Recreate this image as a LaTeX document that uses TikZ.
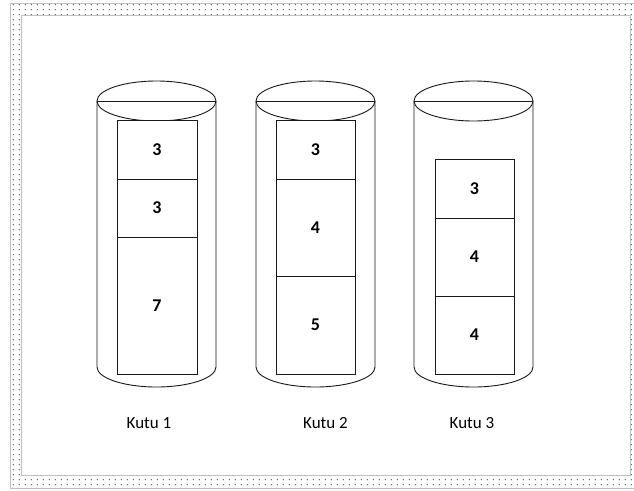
\documentclass[tikz,border=0pt]{standalone}
\usepackage{fontspec}
\setmainfont{Carlito}
\usetikzlibrary{patterns}
\pgfdeclarepatternformonly{sparsedots}{\pgfpointorigin}{\pgfpoint{6pt}{5pt}}{\pgfpoint{6pt}{5pt}}{%
  \pgfpathcircle{\pgfpoint{1.5pt}{1.5pt}}{0.7pt}\pgfusepath{fill}}
\tikzset{
  ln/.style={draw=black!90, line width=0.9pt},
  seg/.style={ln, fill=white, minimum width=#1, inner sep=0pt, font=\bfseries\fontsize{18}{18}\selectfont},
  seg/.default=80pt,
  lbl/.style={font=\fontsize{17}{17}\selectfont, inner sep=0pt},
  frameline/.style={draw=black!25, line width=0.6pt}
}
\begin{document}
\begin{tikzpicture}[x=1pt,y=-1pt]
\useasboundingbox (0,0) rectangle (634,490);
\fill[white] (0,0) rectangle (634,490);
% dotted frame band
\fill[pattern=sparsedots, pattern color=black!75, even odd rule]
  (10,3) rectangle (636,488) (21,15) rectangle (630,475);
\draw[frameline] (10,3) rectangle (636,488);
\draw[frameline] (21,15) rectangle (630,475);

% cylinders
\foreach \cx/\n in {156.5/1, 315.5/2, 473.5/3}{
  \draw[ln, fill=white] ({\cx-59.5},101) -- ({\cx-59.5},367)
     arc[start angle=180, end angle=360, x radius=59.5, y radius=-20]
     -- ({\cx+59.5},101);
  \draw[ln, fill=white] (\cx,101) ellipse[x radius=59.5, y radius=20];
  \draw[ln] ({\cx-59.5},101) -- ({\cx+59.5},101);
}

% segments of Kutu 1
\node[seg, minimum height=59pt] (a1) at (157,149.5) {3};
\node[seg, minimum height=58pt] (a2) at (157,208) {3};
\node[seg, minimum height=137pt] (a3) at (157,305.5) {7};
% segments of Kutu 2
\node[seg=79pt, minimum height=59pt] (b1) at (315.5,149.5) {3};
\node[seg=79pt, minimum height=97pt] (b2) at (315.5,227.5) {4};
\node[seg=79pt, minimum height=98pt] (b3) at (315.5,325) {5};
% segments of Kutu 3
\node[seg=79pt, minimum height=59pt] (c1) at (474.5,188.5) {3};
\node[seg=79pt, minimum height=78pt] (c2) at (474.5,257) {4};
\node[seg=79pt, minimum height=78pt] (c3) at (474.5,335) {4};

% labels
\node[lbl] (k1) at (149,423) {Kutu 1};
\node[lbl] (k2) at (325.5,423) {Kutu 2};
\node[lbl] (k3) at (472,423) {Kutu 3};
\end{tikzpicture}
\end{document}
